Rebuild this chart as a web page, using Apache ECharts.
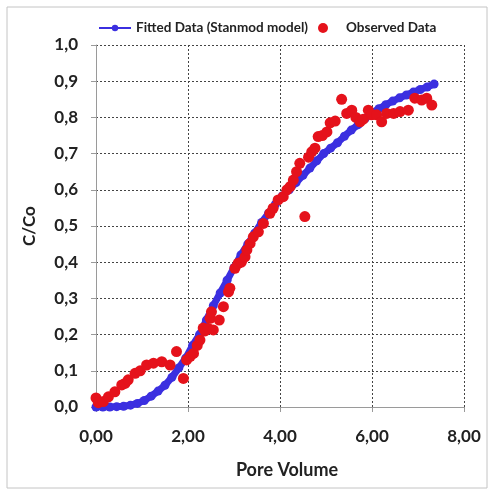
<!DOCTYPE html>
<html>
<head>
<meta charset="utf-8">
<script src="https://cdn.jsdelivr.net/npm/echarts@6/dist/echarts.min.js"></script>
<style>
  html, body { margin: 0; padding: 0; background: #fff; }
  #chart { width: 488px; height: 493px; }
</style>
</head>
<body>
<div id="chart"></div>
<script>
// fitted curve (Stanmod model)
const fittedX = [0, 0.15, 0.30, 0.45, 0.60, 0.75, 0.90, 1.05, 1.20, 1.35, 1.50, 1.65, 1.80, 1.95,
  2.10, 2.25, 2.40, 2.55, 2.70, 2.85, 3.00, 3.15, 3.30, 3.45, 3.60, 3.75, 3.90, 4.05, 4.20, 4.35,
  4.50, 4.65, 4.80, 4.95, 5.10, 5.25, 5.40, 5.55, 5.70, 5.85, 6.00, 6.15, 6.30, 6.45, 6.60, 6.75,
  6.90, 7.05, 7.20, 7.35];
const fittedY = [0, 0, 0, 0.001, 0.002, 0.005, 0.010, 0.018, 0.030, 0.044, 0.060, 0.082, 0.108, 0.135,
  0.17, 0.20, 0.24, 0.28, 0.315, 0.35, 0.385, 0.42, 0.45, 0.48, 0.51, 0.535, 0.56, 0.583, 0.60, 0.62,
  0.64, 0.66, 0.68, 0.70, 0.715, 0.73, 0.748, 0.765, 0.78, 0.797, 0.812, 0.824, 0.835, 0.845, 0.854, 0.862,
  0.870, 0.877, 0.884, 0.892];

// observed data
const observedX = [0.00, 0.05, 0.16, 0.27, 0.41, 0.56, 0.63, 0.70, 0.85, 0.96, 1.10, 1.25, 1.43, 1.61,
  1.75, 1.90, 1.97, 2.05, 2.12, 2.20, 2.26, 2.33, 2.37, 2.44, 2.48, 2.51, 2.55, 2.68, 2.77, 2.88, 2.91,
  3.02, 3.09, 3.16, 3.24, 3.28, 3.35, 3.42, 3.53, 3.64, 3.78, 3.85, 3.96, 4.07, 4.15, 4.22, 4.29, 4.36,
  4.43, 4.54, 4.62, 4.69, 4.76, 4.83, 4.92, 5.02, 5.09, 5.20, 5.34, 5.45, 5.56, 5.65, 5.74, 5.81, 5.92,
  5.99, 6.10, 6.21, 6.32, 6.47, 6.61, 6.79, 6.93, 7.08, 7.19, 7.30];
const observedY = [0.025, 0.012, 0.015, 0.028, 0.042, 0.061, 0.065, 0.075, 0.093, 0.100, 0.116, 0.121, 0.125, 0.116,
  0.153, 0.079, 0.130, 0.140, 0.148, 0.170, 0.185, 0.218, 0.210, 0.217, 0.245, 0.263, 0.213, 0.240, 0.277, 0.318, 0.328,
  0.383, 0.397, 0.400, 0.415, 0.434, 0.452, 0.470, 0.484, 0.507, 0.535, 0.549, 0.572, 0.581, 0.600, 0.609, 0.627, 0.650,
  0.673, 0.526, 0.690, 0.705, 0.715, 0.747, 0.750, 0.760, 0.785, 0.790, 0.850, 0.811, 0.820, 0.800, 0.788, 0.795, 0.820,
  0.807, 0.807, 0.788, 0.811, 0.811, 0.816, 0.820, 0.853, 0.848, 0.853, 0.834];

const xTicks = ['0,00', '2,00', '4,00', '6,00', '8,00'];

const fitted = fittedX.map((x, i) => [x, fittedY[i]]);
const observed = observedX.map((x, i) => [x, observedY[i]]);

const chart = echarts.init(document.getElementById('chart'));

const fontFamily = 'Lato, "Open Sans", sans-serif';
const BLUE = '#3b2fe0';
const RED = '#e5121b';

const legendText = { fontFamily, fontWeight: 'bold', fontSize: 13.5, color: '#222' };

const option = {
  backgroundColor: '#fff',
  animation: false,
  graphic: [{
    type: 'rect',
    shape: { x: 7, y: 7, width: 480, height: 481 },
    style: { fill: 'none', stroke: '#c4c4c4', lineWidth: 1 },
    silent: true
  }],
  legend: [
    {
      top: 16,
      left: 93,
      itemWidth: 32,
      itemHeight: 8,
      textStyle: legendText,
      data: ['Fitted Data (Stanmod model)']
    },
    {
      top: 16,
      left: 313,
      itemWidth: 14,
      itemHeight: 10,
      textStyle: Object.assign({}, legendText, { padding: [0, 0, 0, 11] }),
      data: [{ name: 'Observed Data', icon: 'circle' }]
    }
  ],
  grid: {
    left: 96,
    right: 24,
    top: 45,
    bottom: 86
  },
  xAxis: {
    type: 'value',
    min: 0,
    max: 8,
    interval: 2,
    name: 'Pore Volume',
    nameLocation: 'middle',
    nameGap: 54,
    nameTextStyle: { fontFamily, fontWeight: 'bold', fontSize: 18, color: '#222', padding: [0, 0, 0, 14] },
    axisLine: { show: true, lineStyle: { color: '#9a9a9a', width: 1 } },
    axisTick: { show: true, length: 5, lineStyle: { color: '#9a9a9a' } },
    axisLabel: {
      margin: 21,
      fontFamily, fontWeight: 'bold', fontSize: 17, color: '#222',
      formatter: (v) => xTicks[Math.round(v / 2)]
    },
    splitLine: { show: true, lineStyle: { color: '#444', type: [2, 2], width: 1 } }
  },
  yAxis: {
    type: 'value',
    min: 0,
    max: 1,
    interval: 0.1,
    name: 'C/Co',
    nameLocation: 'middle',
    nameGap: 58,
    nameRotate: 90,
    nameTextStyle: { fontFamily, fontWeight: 'bold', fontSize: 17, color: '#222' },
    axisLine: { show: true, lineStyle: { color: '#9a9a9a', width: 1 } },
    axisTick: { show: true, length: 5, lineStyle: { color: '#9a9a9a' } },
    axisLabel: {
      margin: 18,
      fontFamily, fontWeight: 'bold', fontSize: 17, color: '#222',
      formatter: (v) => v.toFixed(1).replace('.', ',')
    },
    splitLine: { show: true, lineStyle: { color: '#444', type: [2, 2], width: 1 } }
  },
  series: [
    {
      name: 'Fitted Data (Stanmod model)',
      type: 'line',
      data: fitted,
      symbol: 'circle',
      symbolSize: 9,
      showSymbol: true,
      lineStyle: { color: BLUE, width: 7 },
      itemStyle: { color: BLUE },
      z: 2
    },
    {
      name: 'Observed Data',
      type: 'scatter',
      data: observed,
      symbol: 'circle',
      symbolSize: 11,
      itemStyle: { color: RED, opacity: 1 },
      z: 3
    }
  ]
};

chart.setOption(option);
</script>
</body>
</html>
